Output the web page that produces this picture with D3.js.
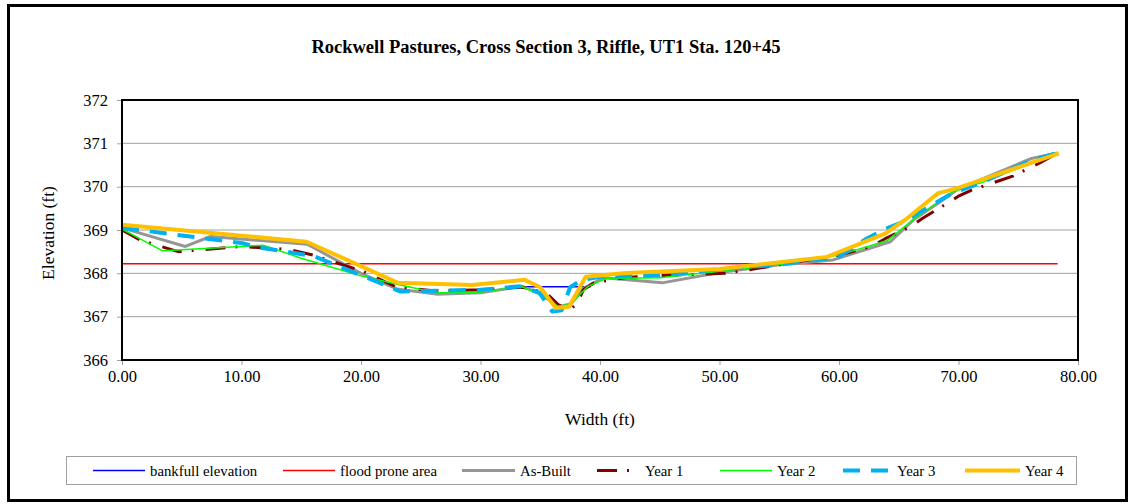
<!DOCTYPE html>
<html>
<head>
<meta charset="utf-8">
<script src="https://cdn.jsdelivr.net/npm/d3@7"></script>
<style>
  body { margin: 0; background: #fff; }
  text { font-family: "Liberation Serif", "Times New Roman", serif; fill: #000; }
</style>
</head>
<body>
<div id="chart"></div>
<script>
// Chart values
var xTicks = [0, 10, 20, 30, 40, 50, 60, 70, 80]
var yTicks = [366, 367, 368, 369, 370, 371, 372]

var bankfull = [[33.6, 367.69], [39.2, 367.69]]
var floodProne = [[0, 368.22], [78.3, 368.22]]

var asBuilt = [[0, 369.05], [5.3, 368.62], [7.4, 368.85], [15.5, 368.67], [20, 368.0], [23, 367.64],
  [26.3, 367.52], [30, 367.55], [33.5, 367.7], [35.3, 367.5], [36.4, 367.22], [37.6, 367.3],
  [38.6, 367.65], [40.3, 367.9], [45.2, 367.78], [50, 368.02], [55, 368.2], [59.5, 368.31],
  [64.3, 368.73], [66.3, 369.25], [68.2, 369.6], [70, 369.95], [76.1, 370.65], [78.3, 370.78]]

var year1 = [[0, 369.0], [1.5, 368.77], [4.7, 368.5], [10, 368.62], [14, 368.55], [16, 368.42],
  [20.2, 368.04], [23, 367.68], [26, 367.6], [30, 367.62], [33.5, 367.68], [35.5, 367.55],
  [36.5, 367.28], [37.4, 367.15], [38.1, 367.3], [38.6, 367.62], [39.5, 367.78], [42, 367.9],
  [45, 367.95], [50.5, 368.0], [52.5, 368.08], [55, 368.2], [60, 368.42], [62.7, 368.62],
  [64, 368.82], [66, 369.08], [67, 369.27], [70, 369.78], [71.1, 369.92], [74.6, 370.25],
  [76.8, 370.55], [78.3, 370.78]]

var year2 = [[0, 369.02], [3.4, 368.52], [10, 368.62], [11.8, 368.65], [15, 368.35], [19.9, 367.95],
  [23.3, 367.73], [26.3, 367.55], [30, 367.57], [33.5, 367.69], [35, 367.5], [36.5, 367.24],
  [37.5, 367.28], [39, 367.7], [40.5, 367.88], [45, 367.9], [50, 368.05], [55, 368.2],
  [60, 368.42], [64, 368.75], [66.5, 369.3], [69.5, 369.88], [72, 370.1], [78.3, 370.78]]

var year3 = [[0, 369.05], [3.4, 368.93], [10, 368.7], [11.4, 368.6], [16, 368.4], [20.5, 367.9],
  [23.3, 367.58], [26.5, 367.6], [30, 367.62], [33.3, 367.7], [34.9, 367.56], [36, 367.12],
  [36.8, 367.15], [37.5, 367.68], [38.5, 367.85], [40, 367.92], [45, 367.95], [50, 368.1],
  [55, 368.2], [60, 368.38], [62.3, 368.8], [64.1, 369.05], [65.4, 369.19], [67, 369.45],
  [69.5, 369.85], [72, 370.1], [76, 370.6], [78.3, 370.78]]

var year4 = [[0, 369.12], [15.45, 368.73], [23.1, 367.78], [29.3, 367.73], [33.7, 367.85],
  [35, 367.68], [36.3, 367.2], [37.4, 367.23], [38.8, 367.92], [42.2, 368.01], [50, 368.1],
  [59, 368.38], [63.9, 368.92], [65.7, 369.27], [68.3, 369.85], [69.85, 369.96], [78.4, 370.77]]

var seriesNames = ['bankfull elevation', 'flood prone area', 'As-Built', 'Year 1', 'Year 2', 'Year 3', 'Year 4']
var seriesData = [bankfull, floodProne, asBuilt, year1, year2, year3, year4]

// styles per series
var styles = [
  { color: '#0000FF', width: 1.3, dash: null },
  { color: '#FF0000', width: 1.5, dash: null },
  { color: '#969696', width: 3, dash: null },
  { color: '#800000', width: 3, dash: '20,10,2,12' },
  { color: '#00FF00', width: 1.5, dash: null },
  { color: '#00B0F0', width: 4, dash: '17,11' },
  { color: '#FFC000', width: 4, dash: null }
]

var W = 1133
var H = 504
var margin = { top: 100, left: 122, right: 55, bottom: 144 }
var width = W - margin.left - margin.right
var height = H - margin.top - margin.bottom

var svg = d3.select('#chart')
  .append('svg')
  .attr('width', W)
  .attr('height', H)

// outer chart border
svg.append('rect')
  .attr('x', 8.5)
  .attr('y', 5.5)
  .attr('width', 1118)
  .attr('height', 495)
  .attr('fill', 'none')
  .attr('stroke', '#000')
  .attr('stroke-width', 3)

svg.append('text')
  .attr('x', 546)
  .attr('y', 53)
  .attr('text-anchor', 'middle')
  .style('font-size', '18.5px')
  .style('font-weight', 'bold')
  .text('Rockwell Pastures, Cross Section 3, Riffle, UT1 Sta. 120+45')

var g = svg.append('g')
  .attr('transform', `translate(${margin.left},${margin.top})`)

var x = d3.scaleLinear().domain([0, 80]).range([0, width])
var y = d3.scaleLinear().domain([366, 372]).range([height, 0])

// gridlines
g.append('g')
  .selectAll('line')
  .data(yTicks)
  .enter()
  .append('line')
  .attr('x1', 0)
  .attr('x2', width)
  .attr('y1', d => y(d))
  .attr('y2', d => y(d))
  .attr('stroke', '#A0A0A0')
  .attr('stroke-width', 1)

// axes
var xAxis = g.append('g')
  .attr('transform', `translate(0,${height})`)
  .call(d3.axisBottom(x).tickValues(xTicks).tickFormat(d3.format('.2f')).tickSize(5).tickPadding(5))
var yAxis = g.append('g')
  .call(d3.axisLeft(y).tickValues(yTicks).tickFormat(d3.format('d')).tickSize(5).tickPadding(9))

;[xAxis, yAxis].forEach(a => {
  a.select('.domain').remove()
  a.selectAll('line').attr('stroke', '#A0A0A0')
  a.selectAll('text').style('font-size', '16.5px').attr('fill', '#000')
    .style('font-family', '"Liberation Serif", serif')
})

g.append('text')
  .attr('transform', `translate(-68,${height / 2 + 3}) rotate(-90)`)
  .attr('text-anchor', 'middle')
  .style('font-size', '17.5px')
  .text('Elevation (ft)')

g.append('text')
  .attr('x', width / 2)
  .attr('y', height + 65)
  .attr('text-anchor', 'middle')
  .style('font-size', '17.5px')
  .text('Width (ft)')

// series lines
var line = d3.line().x(d => x(d[0])).y(d => y(d[1]))

g.append('g')
  .selectAll('path')
  .data(seriesData)
  .enter()
  .append('path')
  .attr('d', d => line(d))
  .attr('fill', 'none')
  .attr('stroke', (d, i) => styles[i].color)
  .attr('stroke-width', (d, i) => styles[i].width)
  .attr('stroke-dasharray', (d, i) => styles[i].dash)
  .attr('stroke-linejoin', 'round')

// plot box
g.append('rect')
  .attr('width', width)
  .attr('height', height)
  .attr('fill', 'none')
  .attr('stroke', '#000')
  .attr('stroke-width', 2)

// legend
var legend = svg.append('g')
legend.append('rect')
  .attr('x', 66.5)
  .attr('y', 456.5)
  .attr('width', 1010)
  .attr('height', 28)
  .attr('fill', '#fff')
  .attr('stroke', '#A0A0A0')

var legendX = [93, 283, 462, 597, 720, 843, 965]
var legendLen = [52, 52, 53, 43, 52, 49, 55]
var ly = 470.5

var items = legend.selectAll('g.item')
  .data(seriesNames)
  .enter()
  .append('g')
  .attr('class', 'item')

items.append('line')
  .attr('x1', (d, i) => legendX[i])
  .attr('x2', (d, i) => legendX[i] + legendLen[i])
  .attr('y1', ly)
  .attr('y2', ly)
  .attr('stroke', (d, i) => styles[i].color)
  .attr('stroke-width', (d, i) => styles[i].width)
  .attr('stroke-dasharray', (d, i) => styles[i].dash)

items.append('text')
  .attr('x', (d, i) => legendX[i] + legendLen[i] + 5)
  .attr('y', ly + 5)
  .style('font-size', '14.8px')
  .text(d => d)
</script>
</body>
</html>
